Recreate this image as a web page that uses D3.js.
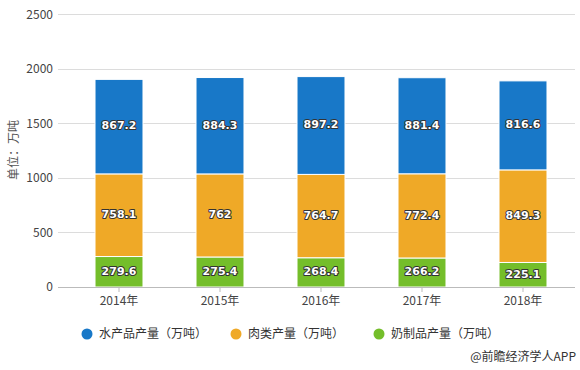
<!DOCTYPE html>
<html><head><meta charset="utf-8">
<script src="https://cdn.jsdelivr.net/npm/d3@7"></script>
<style>
body{margin:0;background:#fff;}
svg{font-family:"Microsoft YaHei","Noto Sans CJK SC",sans-serif;}
</style></head>
<body><svg id="c" width="580" height="370"></svg>
<script>
const years = ["2014年","2015年","2016年","2017年","2018年"];
const seriesNames = ["奶制品产量（万吨）","肉类产量（万吨）","水产品产量（万吨）"];
const dairy = [279.6, 275.4, 268.4, 266.2, 225.1];
const meat = [758.1, 762, 764.7, 772.4, 849.3];
const aquatic = [867.2, 884.3, 897.2, 881.4, 816.6];
const yTicks = [0, 500, 1000, 1500, 2000, 2500];
const colors = ["#74be2a", "#efa927", "#1878c8"];

const svg = d3.select("#c");
const x = d3.scaleBand().domain(years).range([68.5, 573.5]).paddingInner(0.525).paddingOuter(0.2625);
const y = d3.scaleLinear().domain([0, 2500]).range([287, 14.5]);

// gridlines
svg.append("g").selectAll("line").data(yTicks.slice(1)).join("line")
  .attr("x1", 58).attr("x2", 575).attr("y1", d => y(d)).attr("y2", d => y(d))
  .attr("stroke", "#dcdcdc").attr("stroke-width", 1).attr("shape-rendering","crispEdges");

// y labels
svg.append("g").selectAll("text").data(yTicks).join("text")
  .attr("x", 53).attr("y", d => y(d)).attr("dy", "0.35em").attr("text-anchor", "end")
  .attr("font-size", 12).attr("fill", "#444").text(d => d);

// y title
svg.append("text").attr("transform", "translate(14,150) rotate(-90)")
  .attr("text-anchor", "middle").attr("dy","0.35em").attr("font-size", 12).attr("fill", "#555").text("单位：万吨");

const data = years.map((yr, i) => ({year: yr, dairy: dairy[i], meat: meat[i], aquatic: aquatic[i]}));
const stack = d3.stack().keys(["dairy","meat","aquatic"])(data);

const g = svg.append("g");
stack.forEach((s, si) => {
  g.append("g").selectAll("rect").data(s).join("rect")
    .attr("x", d => x(d.data.year)).attr("width", x.bandwidth())
    .attr("y", d => y(d[1])).attr("height", d => y(d[0]) - y(d[1]))
    .attr("fill", colors[si]).attr("stroke", "#fff").attr("stroke-width", 1);
});
stack.forEach((s, si) => {
  g.append("g").selectAll("text").data(s).join("text")
    .attr("x", d => x(d.data.year) + x.bandwidth()/2)
    .attr("y", d => (y(d[0]) + y(d[1]))/2 - 1).attr("dy","0.35em")
    .attr("text-anchor","middle").attr("font-size", 11).attr("font-weight","bold")
    .attr("font-family","'DejaVu Sans', sans-serif")
    .attr("fill","#fff").attr("stroke","#333").attr("stroke-width",2).attr("paint-order","stroke")
    .attr("stroke-linejoin","round")
    .text(d => +(d.data[s.key]));
});

// x axis
const xa = svg.append("g").attr("transform", "translate(0,287)");
xa.append("line").attr("x1", 58).attr("x2", 575).attr("stroke", "#bbb").attr("shape-rendering","crispEdges");
xa.selectAll("line.t").data(years).join("line").attr("class","t")
  .attr("x1", d => x(d)+x.bandwidth()/2).attr("x2", d => x(d)+x.bandwidth()/2)
  .attr("y1", 0).attr("y2", 5).attr("stroke", "#bbb");
xa.selectAll("text").data(years).join("text")
  .attr("x", d => x(d)+x.bandwidth()/2).attr("y", 18).attr("text-anchor","middle")
  .attr("font-size", 12).attr("fill","#444").text(d => d);

// legend
const legendItems = [
  {name: seriesNames[2], color: colors[2], x: 87},
  {name: seriesNames[1], color: colors[1], x: 236},
  {name: seriesNames[0], color: colors[0], x: 379}
];
const lg = svg.append("g").selectAll("g").data(legendItems).join("g")
  .attr("transform", d => `translate(${d.x},334)`);
lg.append("circle").attr("r", 5.5).attr("fill", d => d.color);
lg.append("text").attr("x", 12).attr("dy","0.35em").attr("font-size", 12).attr("fill","#333").text(d => d.name);

svg.append("text").attr("x", 576).attr("y", 357).attr("dy","0.35em").attr("text-anchor","end")
  .attr("font-size", 12).attr("fill","#333").text("@前瞻经济学人APP");
</script></body></html>
